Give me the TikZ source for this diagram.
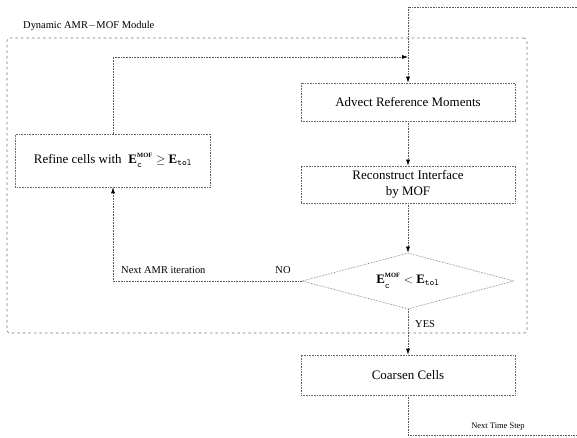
\documentclass[tikz,border=0pt]{standalone}
\usepackage{fontspec}
\setmainfont{Liberation Serif}
\usetikzlibrary{shapes.geometric,arrows.meta}
\newcommand{\EcMOF}{\mathbf{E}_{\raisebox{-1.5pt}{$\scriptstyle\mathtt{c}$}}^{\raisebox{1.5pt}{$\scriptscriptstyle\mathbf{MOF}$}}}
\newcommand{\Etol}{\mathbf{E}_{\mathtt{tol}}}
\begin{document}
\begin{tikzpicture}[x=1bp,y=-1bp,
  box/.style={draw=black!60, densely dotted, line width=0.6bp, minimum width=214bp, inner sep=0pt, align=center, font=\fontsize{13}{16}\selectfont},
  decbox/.style={draw=black!60, densely dotted, line width=0.6bp, diamond, aspect=3.8, minimum width=212bp, minimum height=56bp, inner sep=0pt, font=\fontsize{13}{16}\selectfont},
  modbox/.style={draw=black!55, dash pattern=on 2.5bp off 3bp, line width=0.6bp, rounded corners=3bp, inner sep=0pt},
  conn/.style={draw=black!65, densely dotted, line width=0.6bp, -{Latex[length=6bp,width=4bp,color=black]}},
  plainline/.style={draw=black!65, densely dotted, line width=0.6bp},
  lbl/.style={inner sep=0pt, font=\fontsize{10.5}{12}\selectfont},
  smalllbl/.style={inner sep=0pt, font=\fontsize{8.5}{10}\selectfont}
]
\useasboundingbox (0,0) rectangle (577,438);

% module frame
\node[modbox, minimum width=520bp, minimum height=295bp] (module) at (267,185.5) {};
\node[lbl, anchor=west] (title) at (23,26) {Dynamic AMR$-$MOF Module};

% boxes
\node[box, minimum height=38bp] (adv) at (408,102) {Advect Reference Moments};
\node[box, minimum height=37bp] (rec) at (408,184.5) {Reconstruct Interface\\by MOF};
\node[decbox] (dec) at (408,281) {$\EcMOF < \Etol$};
\node[box, minimum height=40bp] (coarse) at (408,375) {Coarsen Cells};
\node[box, minimum width=195bp, minimum height=53bp] (refine) at (113,160.5) {Refine cells with\; $\EcMOF \geq \Etol$};

% free ends
\coordinate (inTop) at (577,7);
\coordinate (outEnd) at (577,435);
\coordinate (join) at (408,57);

% connectors
\draw[conn] (inTop) -| (adv.north);
\draw[conn] (refine.north) |- (join);
\draw[conn] (adv.south) -- (rec.north);
\draw[conn] (rec.south) -- (dec.north);
\draw[conn] (dec.west) -| (refine.south);
\draw[conn] (dec.south) -- (coarse.north);
\draw[plainline] (coarse.south) |- (outEnd);

% labels
\node[lbl, anchor=west] (nextamr) at (121,270) {Next AMR iteration};
\node[lbl] (no) at (283,270) {NO};
\node[lbl, anchor=west] (yes) at (415,324) {YES};
\node[smalllbl] (nextts) at (498,427) {Next Time Step};
\end{tikzpicture}
\end{document}
